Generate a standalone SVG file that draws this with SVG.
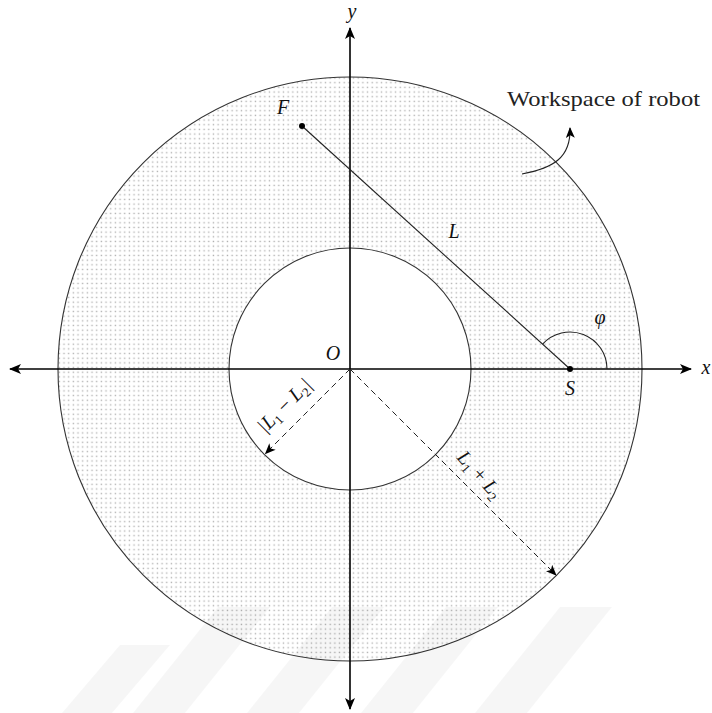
<svg xmlns="http://www.w3.org/2000/svg" width="712" height="713" viewBox="0 0 712 713">
<style>
.math{font-family:"Liberation Serif","DejaVu Serif",serif;font-style:italic;font-size:20px;fill:#111}
.sub{font-style:normal;font-size:13px}
.rm{font-family:"Liberation Serif","DejaVu Serif",serif;font-size:21px;fill:#222}
.axis{stroke:#000;stroke-width:1.6;fill:none}
.circ{stroke:#333;stroke-width:1.1;fill:none}
.dash{stroke:#222;stroke-width:1;stroke-dasharray:6 4;fill:none}
.thin{stroke:#222;stroke-width:1.1;fill:none}
</style>
<defs>
<pattern id="dots" width="4.67" height="4.67" patternUnits="userSpaceOnUse" x="1" y="1">
<rect x="1.6" y="1.6" width="1.4" height="1.4" fill="#b0b0b0"/>
</pattern>
<marker id="ah" viewBox="0 0 12 10" refX="11" refY="5" markerWidth="13" markerHeight="10" markerUnits="userSpaceOnUse" orient="auto">
<path d="M0,0 L12,5 L0,10 L3,5 Z" fill="#000"/>
</marker>
<marker id="ahs" viewBox="0 0 12 10" refX="11" refY="5" markerWidth="11" markerHeight="9" markerUnits="userSpaceOnUse" orient="auto">
<path d="M0,0 L12,5 L0,10 L3,5 Z" fill="#000"/>
</marker>
</defs>
<rect width="712" height="713" fill="#fff"/>
<g id="workspace">
<path d="M58,369 A292,292 0 1 0 642,369 A292,292 0 1 0 58,369 Z M229,369 A121,121 0 1 0 471,369 A121,121 0 1 0 229,369 Z" fill="url(#dots)" fill-rule="evenodd"/>
<circle class="circ" cx="350" cy="369" r="292"/>
<circle class="circ" cx="350" cy="369" r="121"/>
</g>
<g id="connectors">
<line class="axis" x1="350" y1="369" x2="691" y2="369" marker-end="url(#ah)"/>
<line class="axis" x1="350" y1="369" x2="10" y2="369" marker-end="url(#ah)"/>
<line class="axis" x1="350" y1="369" x2="350" y2="28" marker-end="url(#ah)"/>
<line class="axis" x1="350" y1="369" x2="350" y2="709" marker-end="url(#ah)"/>
<line class="thin" x1="302" y1="126" x2="570" y2="369"/>
<path class="thin" d="M607,369 A37,37 0 0 0 542.6,344.1"/>
<line class="dash" x1="350" y1="369" x2="265.5" y2="453.5" marker-end="url(#ahs)"/>
<line class="dash" x1="350" y1="369" x2="556" y2="575" marker-end="url(#ahs)"/>
<path class="thin" d="M522,174 C553,168 571,158 570,128" marker-end="url(#ahs)"/>
</g>
<g id="F"><circle cx="302" cy="126" r="3" fill="#000"/><text class="math" x="283" y="114" text-anchor="middle">F</text></g>
<g id="S"><circle cx="570" cy="369" r="3" fill="#000"/><text class="math" x="570" y="395" text-anchor="middle">S</text></g>
<g id="O"><text class="math" x="333" y="360" text-anchor="middle">O</text></g>
<g id="labels">
<text class="math" x="352" y="18" text-anchor="middle">y</text>
<text class="math" x="706" y="374" text-anchor="middle">x</text>
<text class="math" x="454" y="238" text-anchor="middle">L</text>
<text class="math" x="600" y="324" text-anchor="middle">φ</text>
<text class="rm" x="507" y="106" textLength="193" lengthAdjust="spacingAndGlyphs">Workspace of robot</text>
<text class="math" transform="translate(289,410) rotate(-45)" text-anchor="middle" font-size="19">|L<tspan class="sub" dy="4">1</tspan><tspan dy="-4" font-style="normal"> − </tspan>L<tspan class="sub" dy="4">2</tspan><tspan dy="-4">|</tspan></text>
<text class="math" transform="translate(475,479) rotate(48)" text-anchor="middle" font-size="19">L<tspan class="sub" dy="4">1</tspan><tspan dy="-4" font-style="normal"> + </tspan>L<tspan class="sub" dy="4">2</tspan></text>
</g>
<g id="watermark" fill="#000" fill-opacity="0.035">
<polygon points="120,645 170,645 112,713 62,713"/>
<polygon points="218,607 270,607 185,713 133,713"/>
<polygon points="332,607 384,607 299,713 247,713"/>
<polygon points="446,607 498,607 413,713 361,713"/>
<polygon points="560,607 612,607 527,713 475,713"/>
</g>
</svg>
